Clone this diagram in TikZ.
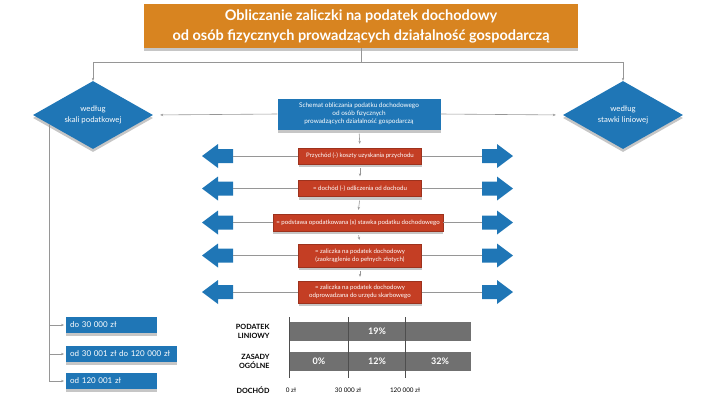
\documentclass[tikz,border=0pt]{standalone}
\usepackage{fontspec}
\setmainfont{Lato}
\usetikzlibrary{arrows.meta,calc,shadows,shapes.geometric}

\definecolor{taxorange}{RGB}{216,132,32}
\definecolor{taxblue}{RGB}{31,118,182}
\definecolor{taxred}{RGB}{196,62,36}
\definecolor{taxgray}{RGB}{112,112,112}
\definecolor{linegray}{RGB}{150,150,150}

\tikzset{
	softshadow/.style={drop shadow={shadow xshift=0pt,shadow yshift=-3pt,opacity=0.45,fill=gray}},
	titlebox/.style={fill=taxorange, text=white, align=center, inner sep=0pt, softshadow,
		font=\bfseries\fontsize{14.5}{20}\selectfont},
	kind/.style={diamond, aspect=1.76, fill=taxblue, text=white, align=center, inner sep=0pt,
		minimum width=120pt, minimum height=68pt, softshadow, font=\fontsize{7.8}{10.5}\selectfont},
	schemebox/.style={fill=taxblue, text=white, align=center, inner sep=0pt, softshadow,
		font=\fontsize{6.4}{8}\selectfont},
	stepbox/.style={fill=taxred, draw=taxred!80!black, line width=0.3pt, text=white, align=center,
		inner sep=0pt, softshadow, font=\fontsize{6.1}{7.8}\selectfont},
	pics/pointer/.style={code={
		\fill[taxblue] (-15,-7) -- (0,-7) -- (0,-12) -- (16,0) -- (0,12) -- (0,7) -- (-15,7) -- cycle;}},
	rangebox/.style={fill=taxblue, text=white, anchor=west, align=left, inner xsep=4pt, inner ysep=0pt,
		minimum height=16pt, softshadow, font=\fontsize{8}{10}\selectfont},
	link/.style={draw=linegray, line width=0.6pt, -{Stealth[length=3pt,width=2.4pt]}},
	rowline/.style={draw=linegray, line width=0.6pt},
	bar/.style={fill=taxgray, anchor=north west, inner sep=0pt, minimum width=182pt, minimum height=19pt},
	share/.style={text=white, font=\bfseries\fontsize{9}{11}\selectfont},
	rowlabel/.style={anchor=east, align=right, font=\bfseries\fontsize{7.2}{9}\selectfont},
	tick/.style={font=\fontsize{6.3}{8}\selectfont}
}

\begin{document}
\begin{tikzpicture}[x=1pt,y=-1pt]
		\useasboundingbox (0,0) rectangle (720,405);
		%%%%% START %%%%%
		\node[titlebox, minimum width=434pt, minimum height=44pt] (title) at (361,26)
			{Obliczanie zaliczki na podatek dochodowy\\od osób fizycznych prowadzących działalność gospodarczą};
		
		\node[kind] (skala) at (93,115) {według\\skali podatkowej};
		\node[kind] (liniowa) at (623,115) {według\\stawki liniowej};
		
		\draw[link] (title.south) -- ++(0,14) -| (skala.north);
		\draw[link] (title.south) -- ++(0,14) -| (liniowa.north);
		
		\node[schemebox, minimum width=163pt, minimum height=31pt] (scheme) at (359,114)
			{Schemat obliczania podatku dochodowego\\od osób fizycznych\\prowadzących działalność gospodarczą};
		\draw[link, shorten >=7pt] (scheme.west) -- (skala.east);
		\draw[link, shorten >=7pt] (scheme.east) -- (liniowa.west);
		
		% steps
		\node[stepbox, minimum width=123pt, minimum height=16pt] (step1) at (360,156) {Przychód (-) koszty uzyskania przychodu};
		\node[stepbox, minimum width=123pt, minimum height=16pt] (step2) at (360,188.5) {= dochód (-) odliczenia od dochodu};
		\node[stepbox, minimum width=170pt, minimum height=17pt] (step3) at (358,222.5) {= podstawa opodatkowana (x) stawka podatku dochodowego};
		\node[stepbox, minimum width=123pt, minimum height=23pt] (step4) at (360,255.5) {= zaliczka na podatek dochodowy\\(zaokrąglenie do pełnych złotych)};
		\node[stepbox, minimum width=123pt, minimum height=22pt] (step5) at (360,292) {= zaliczka na podatek dochodowy\\odprowadzana do urzędu skarbowego};
		
		\draw[link, shorten <=4pt, shorten >=4pt] (scheme.south) -- (step1.north);
		\foreach \a/\b in {1/2,2/3,3/4,4/5}
			\draw[link, shorten <=4pt, shorten >=4pt] (step\a.south) -- (step\b.north);
		
		\foreach \i/\y in {1/156,2/188.5,3/222.5,4/255.5,5/292} {
			\pic[xscale=-1] at (218,\y) {pointer};
			\pic at (497,\y) {pointer};
			\coordinate (left\i) at (233,\y);
			\coordinate (right\i) at (482,\y);
			\draw[rowline] (left\i) -- (step\i.west);
			\draw[rowline] (step\i.east) -- (right\i);
		}
		
		% tax brackets
		\node[rangebox, text width=83pt] (range1) at (66,325) {do 30 000 zł};
		\node[rangebox, text width=103pt] (range2) at (66,354) {od 30 001 zł do 120 000 zł};
		\node[rangebox, text width=83pt] (range3) at (66,381) {od 120 001 zł};
		
		\coordinate (skalafoot) at ($(skala.west)!0.27!(skala.south)$);
		\draw[link, shorten >=2pt] (skalafoot) |- (range3.west);
		\draw[link, shorten >=2pt] (skalafoot |- range1.west) -- (range1.west);
		\draw[link, shorten >=2pt] (skalafoot |- range2.west) -- (range2.west);
		
		% chart
		\node[bar] (barlin) at (289,322) {};
		\node[bar] (barsk) at (289,352) {};
		\foreach \x in {289,348,405}
			\draw[draw=taxgray!70!black, line width=0.6pt] (\x,317) -- (\x,378);
		
		\node[share] (p19) at (377,331.5) {19\%};
		\node[share] (p0) at (319,361) {0\%};
		\node[share] (p12) at (377,361) {12\%};
		\node[share] (p32) at (440,361) {32\%};
		
		\node[rowlabel] (lablin) at (273,331.5) {PODATEK\\LINIOWY};
		\node[rowlabel] (labsk) at (273,361) {ZASADY\\OGÓLNE};
		\node[rowlabel] (labdoch) at (273,390) {DOCHÓD};
		
		\node[tick] (t0) at (291,390) {0 zł};
		\node[tick] (t30) at (348,390) {30 000 zł};
		\node[tick] (t120) at (405,390) {120 000 zł};
		%%%%% END %%%%%
\end{tikzpicture}
\end{document}
